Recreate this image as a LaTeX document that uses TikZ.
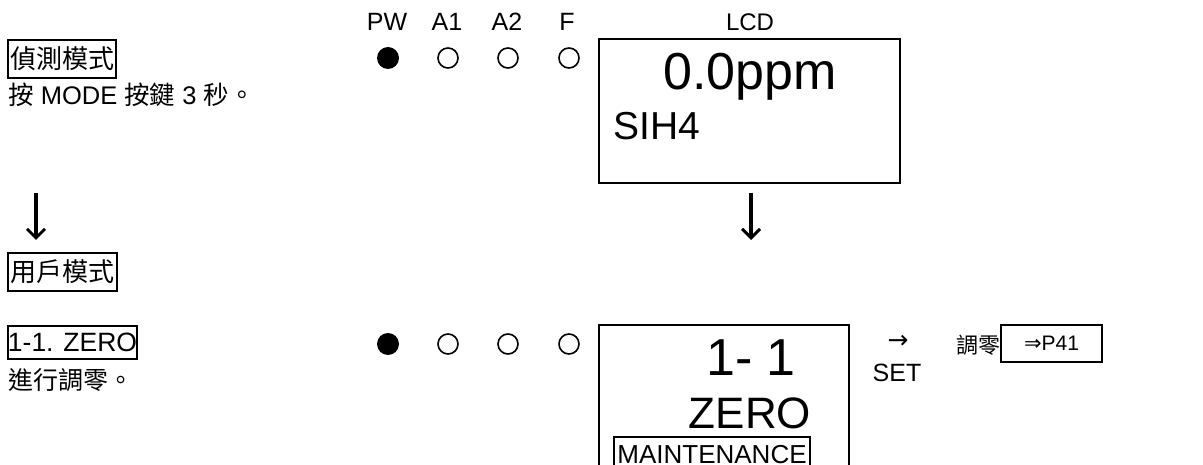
\documentclass[tikz,border=0pt]{standalone}
\usepackage{fontspec}
\setmainfont{Liberation Sans}
\newfontfamily\cjkfont{Noto Sans CJK TC}
\newfontfamily\symfont{DejaVu Sans}
\usetikzlibrary{arrows.meta}
\newcommand\zh[1]{{\cjkfont #1}}
\begin{document}
\begin{tikzpicture}[x=1pt,y=-1pt,
  fs/.style={font=\fontsize{#1}{#1}\selectfont},
  tbox/.style={draw,line width=2pt,inner sep=0pt},
  lcdbox/.style={draw,line width=2pt,inner sep=0pt},
  ledon/.style={circle,fill=black,inner sep=0pt,minimum size=22pt},
  ledoff/.style={circle,draw=black,line width=1.6pt,inner sep=0pt,minimum size=20pt},
  arr/.style={line width=3.2pt,-{Straight Barb[length=9pt,width=18pt,line width=3pt]}}]
\useasboundingbox (0,0) rectangle (1203,465);
\clip (0,0) rectangle (1203,465);
% left column
\node[tbox,fs=26,minimum width=108pt,minimum height=38pt] (det) at (62,59) {\zh{偵測模式}};
\node[fs=25.5,anchor=base west,inner sep=0pt] (detdesc) at (8,105) {\zh{按} MODE \zh{按鍵} 3 \zh{秒。}};
\coordinate (a1s) at (36,193);
\coordinate (a1e) at (36,240);
\draw[arr] (a1s) -- (a1e);
\node[tbox,fs=26,minimum width=109pt,minimum height=38pt] (user) at (62.5,272) {\zh{用戶模式}};
\node[tbox,fs=26.5,minimum width=129pt,minimum height=33pt] (zero) at (72.5,342.5) {1-1. ZERO};
\node[fs=25,anchor=west,inner sep=0pt] (zerodesc) at (8,380) {\zh{進行調零。}};
% LED labels
\node[fs=25] (lpw) at (387,22) {PW};
\node[fs=25] (la1) at (447,22) {A1};
\node[fs=25] (la2) at (507,22) {A2};
\node[fs=25] (lf) at (567,22) {F};
\node[fs=24] (llcd) at (750,22) {LCD};
% LEDs row 1
\node[ledon] (pw1) at (388,58) {};
\node[ledoff] (a11) at (448,58) {};
\node[ledoff] (a21) at (508,58) {};
\node[ledoff] (f1) at (569,58) {};
% LCD 1
\node[lcdbox,minimum width=301pt,minimum height=144pt] (lcd1) at (749.5,111) {};
\node[fs=52,anchor=base,inner sep=0pt] (ppm) at (750,90) {0.0ppm};
\node[fs=39,anchor=base west,inner sep=0pt] (gas) at (613,140) {SIH4};
\coordinate (a2s) at (751,193);
\coordinate (a2e) at (751,240);
\draw[arr] (a2s) -- (a2e);
% LEDs row 2
\node[ledon] (pw2) at (388,344) {};
\node[ledoff] (a12) at (448,344) {};
\node[ledoff] (a22) at (508,344) {};
\node[ledoff] (f2) at (569,344) {};
% LCD 2
\node[lcdbox,minimum width=250pt,minimum height=160pt] (lcd2) at (724,405) {};
\node[fs=52,anchor=base,inner sep=0pt] (num) at (751,375) {1- 1};
\node[fs=44,anchor=base,inner sep=0pt] (zr) at (750,428) {ZERO};
\node[draw,line width=2pt,fs=26,anchor=north west,inner xsep=0pt,inner ysep=0pt,minimum width=196pt,text height=26pt,text depth=20pt] (maint) at (613,436) {MAINTENANCE};
% right
\node[fs=25,inner sep=0pt] (rarr) at (898,342) {\symfont →};
\node[fs=25,inner sep=0pt] (set) at (897,373) {SET};
\node[fs=22,anchor=east,inner sep=0pt] (adj) at (1001,345) {\zh{調零}};
\node[tbox,fs=21,minimum width=101pt,minimum height=37pt] (p41) at (1051.5,343.5) {{\symfont ⇒}P41};
\end{tikzpicture}
\end{document}
